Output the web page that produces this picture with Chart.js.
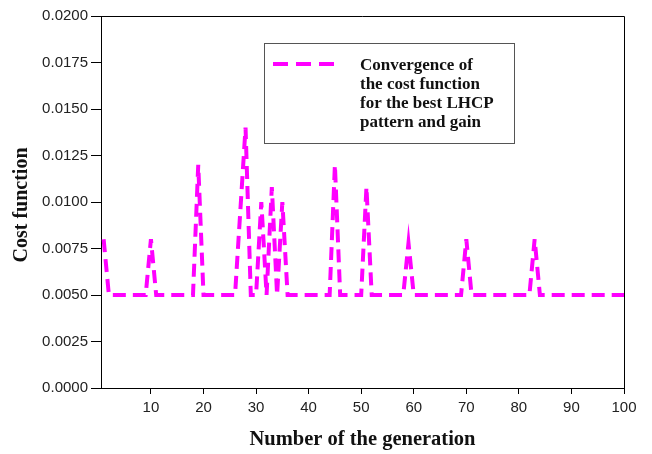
<!DOCTYPE html>
<html>
<head>
<meta charset="utf-8">
<script src="https://cdn.jsdelivr.net/npm/chart.js@4"></script>
<style>
  html, body { margin: 0; padding: 0; background: #fff; }
  #wrap { width: 652px; height: 454px; }
</style>
</head>
<body>
<div id="wrap"><canvas id="grafico" width="652" height="454"></canvas></div>
<script>
// generation number 1..100
const generaciones = [
  1, 2, 3, 4, 5, 6, 7, 8, 9, 10,
  11, 12, 13, 14, 15, 16, 17, 18, 19, 20,
  21, 22, 23, 24, 25, 26, 27, 28, 29, 30,
  31, 32, 33, 34, 35, 36, 37, 38, 39, 40,
  41, 42, 43, 44, 45, 46, 47, 48, 49, 50,
  51, 52, 53, 54, 55, 56, 57, 58, 59, 60,
  61, 62, 63, 64, 65, 66, 67, 68, 69, 70,
  71, 72, 73, 74, 75, 76, 77, 78, 79, 80,
  81, 82, 83, 84, 85, 86, 87, 88, 89, 90,
  91, 92, 93, 94, 95, 96, 97, 98, 99, 100
]

// cost function
const costo = [
  0.0080, 0.0050, 0.0050, 0.0050, 0.0050, 0.0050, 0.0050, 0.0050, 0.0050, 0.0080,
  0.0050, 0.0050, 0.0050, 0.0050, 0.0050, 0.0050, 0.0050, 0.0050, 0.0120, 0.0050,
  0.0050, 0.0050, 0.0050, 0.0050, 0.0050, 0.0050, 0.0095, 0.0140, 0.0050, 0.0050,
  0.0100, 0.0050, 0.0108, 0.0050, 0.0100, 0.0050, 0.0050, 0.0050, 0.0050, 0.0050,
  0.0050, 0.0050, 0.0050, 0.0050, 0.0120, 0.0050, 0.0050, 0.0050, 0.0050, 0.0050,
  0.0108, 0.0050, 0.0050, 0.0050, 0.0050, 0.0050, 0.0050, 0.0050, 0.0078, 0.0050,
  0.0050, 0.0050, 0.0050, 0.0050, 0.0050, 0.0050, 0.0050, 0.0050, 0.0050, 0.0080,
  0.0050, 0.0050, 0.0050, 0.0050, 0.0050, 0.0050, 0.0050, 0.0050, 0.0050, 0.0050,
  0.0050, 0.0050, 0.0080, 0.0050, 0.0050, 0.0050, 0.0050, 0.0050, 0.0050, 0.0050,
  0.0050, 0.0050, 0.0050, 0.0050, 0.0050, 0.0050, 0.0050, 0.0050, 0.0050, 0.0050
]

const ticksX = [10, 20, 30, 40, 50, 60, 70, 80, 90, 100]
const ticksY = [0, 0.0025, 0.005, 0.0075, 0.01, 0.0125, 0.015, 0.0175, 0.02]

const tituloX = 'Number of the generation'
const tituloY = 'Cost function'
const leyenda = ['Convergence of', 'the cost function', 'for the best LHCP', 'pattern and gain']

const MAGENTA = '#ff00ff'
const SERIF = '"Liberation Serif", "Times New Roman", serif'
const SANS = '"Liberation Sans", Arial, sans-serif'

// frame, y title and the boxed legend
const extras = {
  id: 'extras',
  afterDraw(chart) {
    const { ctx, chartArea: a } = chart
    ctx.save()

    ctx.strokeStyle = '#000'
    ctx.lineWidth = 1
    ctx.beginPath()
    ctx.moveTo(a.left, a.top + 0.5)
    ctx.lineTo(a.right + 0.5, a.top + 0.5)
    ctx.lineTo(a.right + 0.5, a.bottom)
    ctx.stroke()

    // y title
    ctx.save()
    ctx.translate(22, 205)
    ctx.rotate(-Math.PI / 2)
    ctx.font = 'bold 20px ' + SERIF
    ctx.fillStyle = '#111'
    ctx.textAlign = 'center'
    ctx.textBaseline = 'middle'
    ctx.fillText(tituloY, 0, 0)
    ctx.restore()

    // legend box
    ctx.strokeStyle = '#555'
    ctx.strokeRect(264.5, 43.5, 250, 100)

    ctx.strokeStyle = MAGENTA
    ctx.lineWidth = 4
    ctx.setLineDash([15, 8])
    ctx.beginPath()
    ctx.moveTo(273, 64)
    ctx.lineTo(336, 64)
    ctx.stroke()
    ctx.setLineDash([])

    ctx.fillStyle = '#111'
    ctx.font = 'bold 17px ' + SERIF
    ctx.textAlign = 'left'
    ctx.textBaseline = 'alphabetic'
    leyenda.forEach((linea, i) => {
      ctx.fillText(linea, 360, 70 + i * 19)
    })

    ctx.restore()
  }
}

const ctx = document.getElementById('grafico').getContext('2d')

new Chart(ctx, {
  type: 'line',
  data: {
    labels: generaciones,
    datasets: [{
      label: 'Convergence of the cost function for the best LHCP pattern and gain',
      data: generaciones.map((g, i) => ({ x: g, y: costo[i] })),
      borderColor: MAGENTA,
      borderWidth: 4,
      borderDash: [13, 7],
      pointRadius: 0,
      tension: 0,
      fill: false
    }]
  },
  options: {
    responsive: false,
    animation: false,
    layout: { padding: { top: 16, right: 28, left: 0, bottom: 0 } },
    plugins: {
      legend: { display: false },
      tooltip: { enabled: false }
    },
    scales: {
      x: {
        type: 'linear',
        min: 0.5,
        max: 100,
        afterBuildTicks: (scale) => { scale.ticks = ticksX.map(v => ({ value: v })) },
        afterFit: (scale) => { scale.height = 66 },
        grid: { drawOnChartArea: false, drawTicks: true, tickLength: 6, color: '#000' },
        border: { display: true, color: '#000', width: 1 },
        ticks: {
          color: '#222',
          font: { family: SANS, size: 15 },
          padding: 5,
          maxRotation: 0
        },
        title: {
          display: true,
          text: tituloX,
          color: '#111',
          font: { family: SERIF, size: 20.5, weight: 'bold' },
          padding: { top: 0, bottom: 2 }
        }
      },
      y: {
        min: 0,
        max: 0.02,
        afterBuildTicks: (scale) => { scale.ticks = ticksY.map(v => ({ value: v })) },
        afterFit: (scale) => { scale.width = 101 },
        grid: { drawOnChartArea: false, drawTicks: true, tickLength: 10, color: '#000' },
        border: { display: true, color: '#000', width: 1 },
        ticks: {
          color: '#222',
          font: { family: SANS, size: 15 },
          padding: 3,
          callback: (v) => Number(v).toFixed(4)
        }
      }
    }
  },
  plugins: [extras]
})
</script>
</body>
</html>
